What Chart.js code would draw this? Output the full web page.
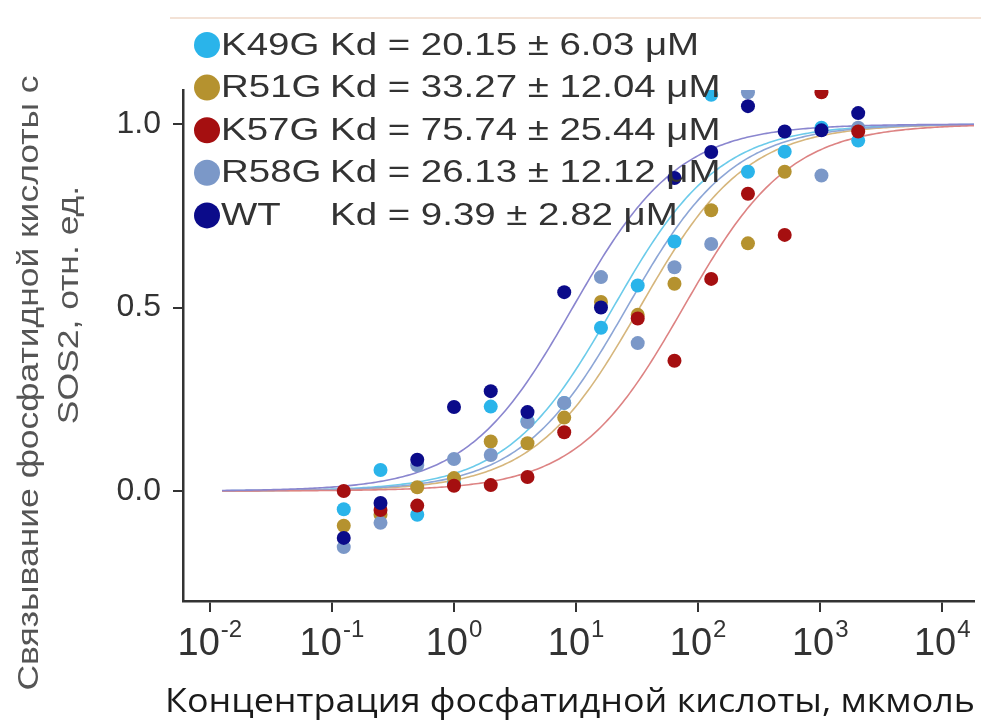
<!DOCTYPE html>
<html>
<head>
<meta charset="utf-8">
<script src="https://cdn.jsdelivr.net/npm/chart.js@4.4.0/dist/chart.umd.min.js"></script>
<style>
  html, body { margin: 0; padding: 0; background: #fff; }
</style>
</head>
<body>
<canvas id="chart" width="981" height="727"></canvas>
<script>
// concentrations of phosphatidic acid (serial 2x dilution)
const concentrations = [0.125, 0.25, 0.5, 1, 2, 4, 8, 16, 32, 64, 128, 256, 512, 1024, 2048];

// binding values (null = not visible)
const k49g = [-0.05, 0.057, -0.065, 0.02, 0.23, 0.19, 0.24, 0.445, 0.56, 0.68, 1.08, 0.87, 0.925, 0.99, 0.955];
const r51g = [-0.095, -0.065, 0.01, 0.035, 0.135, 0.13, 0.2, 0.515, 0.48, 0.565, 0.765, 0.675, 0.87, 1.14, 1.117];
const k57g = [0.0, -0.052, -0.04, 0.014, 0.016, 0.038, 0.16, null, 0.47, 0.355, 0.578, 0.81, 0.698, 1.087, 0.98];
const r58g = [-0.153, -0.087, 0.07, 0.087, 0.098, 0.188, 0.24, 0.583, 0.403, 0.61, 0.673, 1.087, 1.125, 0.86, 0.99];
const wt   = [-0.128, -0.033, 0.085, 0.229, 0.272, 0.215, 0.542, 0.5, null, 0.853, 0.924, 1.049, 0.98, 0.983, 1.03];

const mutants = ["K49G", "R51G", "K57G", "R58G", "WT"];
const kdValues = [20.15, 33.27, 75.74, 26.13, 9.39];
const kdErrors = [6.03, 12.04, 25.44, 12.12, 2.82];

const xTicks = [1e-2, 1e-1, 1e0, 1e1, 1e2, 1e3, 1e4];
const yTicks = [0, 0.5, 1.0];

const seriesValues = [k49g, r51g, k57g, r58g, wt];
const pointColors = ["#2ab4ea", "#b5922f", "#a50f10", "#7b98c8", "#0b0b8a"];
const curveColors = ["#6ccbea", "#d6b67c", "#dd8383", "#8da6d6", "#8a86cf"];

// fitted one-site binding curve y = x / (Kd + x), sampled on a log grid
const fitX = [];
for (let e = -1.9; e <= 4.3; e += 0.02) fitX.push(Math.pow(10, e));

const datasets = [];
// draw order: WT on top, then K57G, R58G, R51G, K49G
[4, 2, 3, 1, 0].forEach((i, k) => {
  datasets.push({
    type: "scatter",
    label: mutants[i],
    data: concentrations.map((c, j) => ({ x: c, y: seriesValues[i][j] })),
    backgroundColor: pointColors[i],
    borderWidth: 0,
    pointRadius: 7,
    order: k
  });
});
[4, 2, 3, 1, 0].forEach((i, k) => {
  datasets.push({
    type: "line",
    label: mutants[i] + " fit",
    data: fitX.map(x => ({ x: x, y: x / (kdValues[i] + x) })),
    borderColor: curveColors[i],
    borderWidth: 1.6,
    pointRadius: 0,
    fill: false,
    order: 10 + k
  });
});

const FONT = '"Liberation Sans", Arial, sans-serif';

function scaledText(ctx, text, x, y, sx) {
  ctx.save();
  ctx.translate(x, y);
  ctx.scale(sx, 1);
  ctx.fillText(text, 0, 0);
  ctx.restore();
}

const overlay = {
  id: "overlay",
  afterDraw(chart) {
    const ctx = chart.ctx;
    const xs = chart.scales.x;
    ctx.save();

    // faint line at the top edge
    ctx.strokeStyle = "#f3e2d6";
    ctx.lineWidth = 2;
    ctx.beginPath();
    ctx.moveTo(170, 18);
    ctx.lineTo(981, 18);
    ctx.stroke();

    // x tick labels 10^n
    ctx.fillStyle = "#333";
    ctx.textBaseline = "alphabetic";
    ctx.textAlign = "left";
    xTicks.forEach(v => {
      const px = xs.getPixelForValue(v);
      const exp = String(Math.round(Math.log10(v)));
      ctx.font = "38px " + FONT;
      const w1 = ctx.measureText("10").width;
      ctx.font = "24px " + FONT;
      const w2 = ctx.measureText(exp).width;
      const left = px - (w1 + w2 + 1) / 2;
      ctx.font = "38px " + FONT;
      ctx.fillText("10", left, 655);
      ctx.font = "24px " + FONT;
      ctx.fillText(exp, left + w1 + 1, 637);
    });

    // legend
    ctx.textBaseline = "middle";
    mutants.forEach((name, i) => {
      const y = 45 + i * 42.6;
      ctx.fillStyle = pointColors[i];
      ctx.beginPath();
      ctx.arc(207, y, 13, 0, Math.PI * 2);
      ctx.fill();
      ctx.fillStyle = "#333";
      ctx.font = "31px " + FONT;
      scaledText(ctx, name, 221, y + 1, 1.24);
      scaledText(ctx, "Kd = " + kdValues[i].toFixed(2) + " \u00b1 " + kdErrors[i].toFixed(2) + " \u03bcM", 330, y + 1, 1.24);
    });

    // y axis title (two lines)
    ctx.fillStyle = "#555";
    ctx.font = "30px " + FONT;
    ctx.textAlign = "center";
    const t1 = "Связывание фосфатидной кислоты с";
    const t2 = "SOS2, отн. ед.";
    const s1 = 615 / ctx.measureText(t1).width;
    ctx.save();
    ctx.translate(30, 383);
    ctx.rotate(-Math.PI / 2);
    scaledText(ctx, t1, 0, 0, s1);
    ctx.restore();
    ctx.save();
    ctx.translate(70, 305);
    ctx.rotate(-Math.PI / 2);
    scaledText(ctx, t2, 0, 0, s1);
    ctx.restore();

    // x axis title
    ctx.fillStyle = "#1a1a1a";
    ctx.font = '33px "Open Sans", sans-serif';
    const tx = "Концентрация фосфатидной кислоты, мкмоль";
    const sx = 810 / ctx.measureText(tx).width;
    scaledText(ctx, tx, 570, 703, sx);

    ctx.restore();
  }
};

new Chart(document.getElementById("chart"), {
  data: { datasets },
  options: {
    responsive: false,
    animation: false,
    devicePixelRatio: 1,
    layout: { padding: { top: 90, left: 0, right: 0, bottom: 0 } },
    plugins: { legend: { display: false }, tooltip: { enabled: false } },
    scales: {
      x: {
        type: "logarithmic",
        min: Math.pow(10, -2.22),
        max: Math.pow(10, 4.26),
        afterBuildTicks: s => { s.ticks = xTicks.map(v => ({ value: v })); },
        afterFit: s => { s.height = 126; },
        ticks: { display: false },
        grid: { drawOnChartArea: false, drawTicks: true, tickLength: 11, color: "#333", lineWidth: 2 },
        border: { color: "#333", width: 2.5 }
      },
      y: {
        min: -0.3,
        max: 1.093,
        afterBuildTicks: s => { s.ticks = yTicks.map(v => ({ value: v })); },
        afterFit: s => { s.width = 183; },
        ticks: {
          color: "#333",
          font: { family: FONT, size: 32 },
          padding: 12,
          callback: v => v.toFixed(1)
        },
        grid: { drawOnChartArea: false, drawTicks: true, tickLength: 10, color: "#333", lineWidth: 2 },
        border: { color: "#333", width: 2.5 }
      }
    }
  },
  plugins: [overlay]
});
</script>
</body>
</html>
